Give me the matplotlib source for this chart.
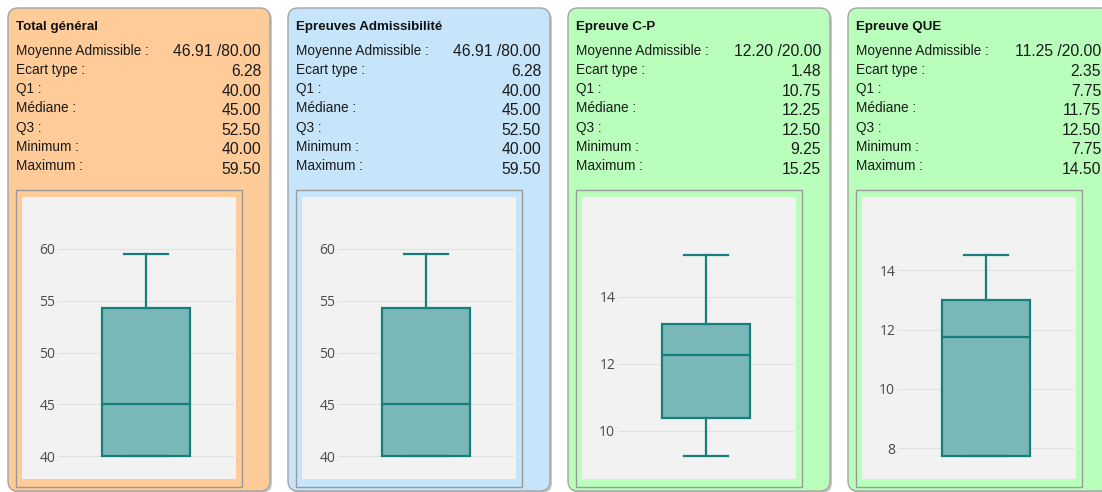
import matplotlib
matplotlib.use("Agg")
import matplotlib.pyplot as plt
from matplotlib.patches import FancyBboxPatch, Rectangle

# panel titles and the stats shown as text
titles = ["Total général", "Epreuves Admissibilité", "Epreuve C-P", "Epreuve QUE"]
row_labels = ["Moyenne Admissible :", "Ecart type :", "Q1 :", "Médiane :",
              "Q3 :", "Minimum :", "Maximum :"]
moyenne = ["46.91 /80.00", "46.91 /80.00", "12.20 /20.00", "11.25 /20.00"]
ecart = [6.28, 6.28, 1.48, 2.35]
q1_txt = [40.00, 40.00, 10.75, 7.75]
med_txt = [45.00, 45.00, 12.25, 11.75]
q3_txt = [52.50, 52.50, 12.50, 12.50]
min_txt = [40.00, 40.00, 9.25, 7.75]
max_txt = [59.50, 59.50, 15.25, 14.50]

# box plot values as drawn (quartiles computed by the chart lib)
box_min = [40.0, 40.0, 9.25, 7.75]
box_q1 = [40.0, 40.0, 10.37, 7.75]
box_med = [45.0, 45.0, 12.25, 11.75]
box_q3 = [54.25, 54.25, 13.2, 13.0]
box_max = [59.5, 59.5, 15.25, 14.5]
yticks = [[40, 45, 50, 55, 60], [40, 45, 50, 55, 60], [10, 12, 14], [8, 10, 12, 14]]
ylims = [(37.8, 65.0), (37.8, 65.0), (8.56, 16.98), (6.97, 16.46)]

colors = ["#ffcb99", "#c6e5fb", "#b9ffbb", "#b9ffbb"]

W, H = 1102, 492
fig = plt.figure(figsize=(W / 100, H / 100), dpi=100)
bg = fig.add_axes([0, 0, 1, 1])
bg.set_xlim(0, W)
bg.set_ylim(H, 0)
bg.axis("off")


def fig_rect(x, y, w, h):
    return [x / W, 1 - (y + h) / H, w / W, h / H]


for i in range(4):
    x0 = 8 + 280 * i
    # shadow + panel
    bg.add_patch(FancyBboxPatch((x0 + 2, 10), 262, 483,
                                boxstyle="round,pad=0,rounding_size=10",
                                fc="#c8c8c8", ec="none", zorder=1))
    bg.add_patch(FancyBboxPatch((x0, 8), 262, 483,
                                boxstyle="round,pad=0,rounding_size=10",
                                fc=colors[i], ec="#a4a4a4", lw=1, zorder=2))
    bg.text(x0 + 8, 30, titles[i], fontsize=9.6, fontweight="bold",
            family="Liberation Sans", color="#111111", va="baseline", zorder=3)

    vals = [moyenne[i], f"{ecart[i]:.2f}", f"{q1_txt[i]:.2f}", f"{med_txt[i]:.2f}",
            f"{q3_txt[i]:.2f}", f"{min_txt[i]:.2f}", f"{max_txt[i]:.2f}"]
    for k, (lab, v) in enumerate(zip(row_labels, vals)):
        bg.text(x0 + 8, 54.5 + 19.3 * k, lab, fontsize=9.8, family="Liberation Sans",
                color="#1a1a1a", va="baseline", zorder=3)
        bg.text(x0 + 253, 56.5 + 19.55 * k, v, fontsize=11.3, family="Liberation Sans",
                color="#1a1a1a", va="baseline", ha="right", zorder=3)

    # chart frame
    bg.add_patch(Rectangle((x0 + 8, 190), 226, 297, fc="none", ec="#9a9a9a", lw=1, zorder=3))
    bg.add_patch(Rectangle((x0 + 14, 197), 214, 282, fc="#f2f2f2", ec="none", zorder=3))

    ax = fig.add_axes(fig_rect(x0 + 50, 197, 176, 282))
    ax.set_facecolor("none")
    stats = [{"whislo": box_min[i], "q1": box_q1[i], "med": box_med[i],
              "q3": box_q3[i], "whishi": box_max[i], "fliers": []}]
    line = dict(color="#167f7e", lw=1.6)
    ax.bxp(stats, positions=[1], widths=0.5, capwidths=0.245, patch_artist=True,
           showfliers=False,
           boxprops=dict(facecolor="#7ab8b7", edgecolor="#167f7e", lw=1.6),
           medianprops=line, whiskerprops=line, capprops=line)
    ax.set_xlim(0.5, 1.5)
    ax.set_ylim(*ylims[i])
    ax.set_yticks(yticks[i])
    ax.set_xticks([])
    ax.grid(axis="y", color="#e0e0e0", lw=0.8)
    ax.set_axisbelow(True)
    ax.tick_params(axis="y", length=0, pad=2, labelsize=10, labelcolor="#4a4a4a")
    for lab in ax.get_yticklabels():
        lab.set_family("Open Sans")
    for s in ax.spines.values():
        s.set_visible(False)

fig.savefig("out.png", dpi=100)
